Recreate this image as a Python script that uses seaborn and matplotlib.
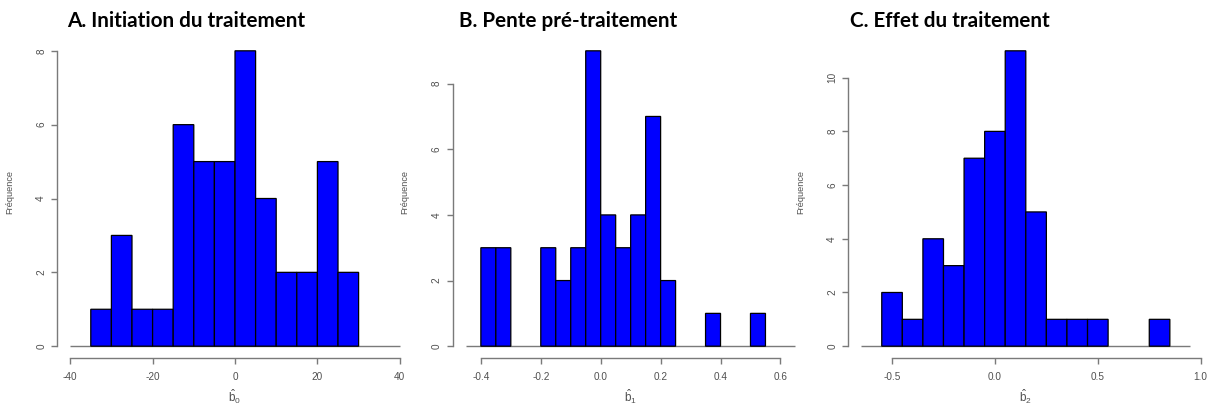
import numpy as np
import pandas as pd
import matplotlib
matplotlib.use('Agg')
import matplotlib.pyplot as plt
import seaborn as sns

# Histogram counts (45 subjects each)
titles = ['A. Initiation du traitement', 'B. Pente pré-traitement', 'C. Effet du traitement']
xlabels = [r'$\hat{\mathrm{b}}_0$', r'$\hat{\mathrm{b}}_1$', r'$\hat{\mathrm{b}}_2$']

# bin edges: start, width, counts
b0_start, b0_width = -35, 5
b0_counts = [1, 3, 1, 1, 6, 5, 5, 8, 4, 2, 2, 5, 2]

b1_start, b1_width = -0.40, 0.05
b1_counts = [3, 3, 0, 0, 3, 2, 3, 9, 4, 3, 4, 7, 2, 0, 0, 1, 0, 0, 1]

b2_start, b2_width = -0.55, 0.10
b2_counts = [2, 1, 4, 3, 7, 8, 11, 5, 1, 1, 1, 0, 0, 1]

# axis ranges and tick labels (as R drew them)
xranges = [(-40, 40), (-0.45, 0.65), (-0.65, 0.95)]
yranges = [(0, 8), (0, 9), (0, 11)]
xticks = [[-40, -20, 0, 20, 40],
          [-0.4, -0.2, 0.0, 0.2, 0.4, 0.6],
          [-0.5, 0.0, 0.5, 1.0]]
xticklabels = [['-40', '-20', '0', '20', '40'],
               ['-0.4', '-0.2', '0.0', '0.2', '0.4', '0.6'],
               ['-0.5', '0.0', '0.5', '1.0']]
yticks = [[0, 2, 4, 6, 8], [0, 2, 4, 6, 8], [0, 2, 4, 6, 8, 10]]

sns.set_theme(style='white')
plt.rcParams['font.family'] = ['Liberation Sans', 'DejaVu Sans']
plt.rcParams['axes.unicode_minus'] = False
plt.rcParams['mathtext.fontset'] = 'custom'
plt.rcParams['mathtext.rm'] = 'Liberation Sans'

axis_grey = '#7a7a7a'
text_grey = '#505050'

fig = plt.figure(figsize=(12.1, 4.08), dpi=100)
W, H = 1210, 408
# axes boxes in pixels: left, right (plot region incl. R's 4% padding)
boxes = [(57, 413), (452.7, 808.6), (848, 1203.6)]
top_px, bot_px = 39, 358
title_x = [67, 459, 850]

panels = [(b0_start, b0_width, b0_counts),
          (b1_start, b1_width, b1_counts),
          (b2_start, b2_width, b2_counts)]

for i, (start, width, counts) in enumerate(panels):
    l, r = boxes[i]
    ax = fig.add_axes([l / W, (H - bot_px) / H, (r - l) / W, (bot_px - top_px) / H])

    n = len(counts)
    edges = [round(start + width * k, 4) for k in range(n + 1)]
    df = pd.DataFrame({'center': [(edges[k] + edges[k + 1]) / 2 for k in range(n)],
                       'count': counts})
    sns.histplot(data=df, x='center', weights='count', bins=edges, color='#0000FF',
                 edgecolor='black', linewidth=0.9, alpha=1, ax=ax)
    for p in ax.patches:
        p.set_snap(False)  # keep every bar outline visible
        # empty bins: no outline, only the grey baseline shows
        if p.get_height() == 0:
            p.set_visible(False)

    x0, x1 = xranges[i]
    y0, y1 = yranges[i]
    ax.hlines(0, x0, x1, color=axis_grey, linewidth=1.0, zorder=0)
    dx, dy = 0.04 * (x1 - x0), 0.04 * (y1 - y0)
    ax.set_xlim(x0 - dx, x1 + dx)
    ax.set_ylim(y0 - dy, y1 + dy)

    ax.set_xticks(xticks[i])
    ax.set_xticklabels(xticklabels[i])
    ax.set_yticks(yticks[i])
    ax.set_yticklabels([str(v) for v in yticks[i]], rotation=90, va='center')

    for side in ['top', 'right']:
        ax.spines[side].set_visible(False)
    ax.spines['bottom'].set_bounds(xticks[i][0], xticks[i][-1])
    ax.spines['left'].set_bounds(yticks[i][0], yticks[i][-1])
    for side in ['bottom', 'left']:
        ax.spines[side].set_color(axis_grey)
        ax.spines[side].set_linewidth(1.0)

    ax.tick_params(axis='both', direction='out', length=4.3, width=1.0,
                   color=axis_grey, labelcolor=text_grey, labelsize=7.2)
    ax.tick_params(axis='x', pad=6, bottom=True)
    ax.tick_params(axis='y', pad=3.5, left=True)

    ax.set_ylabel('Fréquence', fontsize=6.6, color=text_grey)
    ax.yaxis.set_label_coords(-43 / (r - l), 0.52)
    ax.set_xlabel(xlabels[i], fontsize=8.5, color=text_grey)
    ax.xaxis.set_label_coords(0.5, -39 / (bot_px - top_px))
    ax.xaxis.label.set_va('center')

    fig.text(title_x[i] / W, 1 - 26.7 / H, titles[i], fontsize=14.9,
             fontweight='bold', family=['Lato', 'DejaVu Sans'],
             color='black', ha='left', va='baseline')

fig.savefig('out.png', dpi=100)
